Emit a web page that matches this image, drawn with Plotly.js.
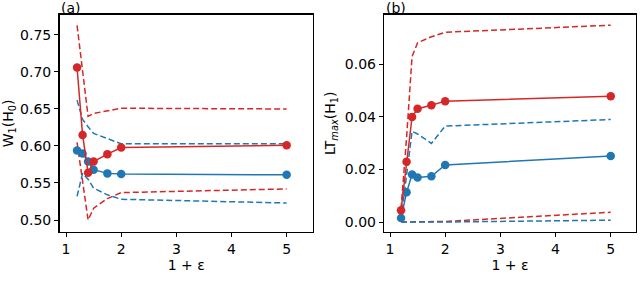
<!DOCTYPE html>
<html>
<head>
<meta charset="utf-8">
<script src="https://cdn.plot.ly/plotly-3.0.1.min.js"></script>
<style>html,body{margin:0;padding:0;background:#fff;}#plot{width:640px;height:292px;}</style>
</head>
<body>
<div id="plot"></div>
<script>
const eps = [1.2, 1.3, 1.4, 1.5, 1.75, 2, 5];

// Panel (a): W1(H0)
const aRedMean = [0.706, 0.615, 0.564, 0.579, 0.589, 0.598, 0.601];
const aRedUpper = [0.763, 0.702, 0.640, 0.644, 0.648, 0.651, 0.650];
const aRedLower = [0.605, 0.553, 0.500, 0.516, 0.529, 0.537, 0.542];
const aBlueMean = [0.594, 0.590, 0.579, 0.568, 0.563, 0.562, 0.561];
const aBlueUpper = [0.662, 0.636, 0.626, 0.617, 0.610, 0.603, 0.603];
const aBlueLower = [0.532, 0.563, 0.555, 0.543, 0.534, 0.528, 0.523];

// Panel (b): LTmax(H1)
const bRedMean = [0.0045, 0.0229, 0.0400, 0.0431, 0.0444, 0.0460, 0.0479];
const bRedUpper = [0.0050, 0.0320, 0.0630, 0.0682, 0.0705, 0.0722, 0.0749];
const bRedLower = [0.0000, 0.0000, 0.0000, 0.0000, 0.0001, 0.0002, 0.0037];
const bBlueMean = [0.0015, 0.0113, 0.0181, 0.0169, 0.0174, 0.0217, 0.0251];
const bBlueUpper = [0.0010, 0.0180, 0.0345, 0.0335, 0.0299, 0.0365, 0.0390];
const bBlueLower = [0.0000, 0.0000, 0.0000, 0.0000, 0.0000, 0.0000, 0.0007];

const xTicks = [1, 2, 3, 4, 5];
const aYTicks = [0.50, 0.55, 0.60, 0.65, 0.70, 0.75];
const bYTicks = [0.00, 0.02, 0.04, 0.06];

const RED = '#d62728';
const BLUE = '#1f77b4';

function dashed(y, color, xa, ya) {
  return {x: eps, y: y, xaxis: xa, yaxis: ya, mode: 'lines', type: 'scatter',
    line: {color: color, width: 1.5, dash: '6px,3px'}, hoverinfo: 'skip', showlegend: false};
}
function solid(y, color, xa, ya) {
  return {x: eps, y: y, xaxis: xa, yaxis: ya, mode: 'lines+markers', type: 'scatter',
    line: {color: color, width: 1.5}, marker: {color: color, size: 8.5}, showlegend: false};
}

const data = [
  dashed(aRedUpper, RED, 'x', 'y'), dashed(aRedLower, RED, 'x', 'y'),
  dashed(aBlueUpper, BLUE, 'x', 'y'), dashed(aBlueLower, BLUE, 'x', 'y'),
  solid(aBlueMean, BLUE, 'x', 'y'), solid(aRedMean, RED, 'x', 'y'),
  dashed(bRedUpper, RED, 'x2', 'y2'), dashed(bRedLower, RED, 'x2', 'y2'),
  dashed(bBlueUpper, BLUE, 'x2', 'y2'), dashed(bBlueLower, BLUE, 'x2', 'y2'),
  solid(bBlueMean, BLUE, 'x2', 'y2'), solid(bRedMean, RED, 'x2', 'y2')
];

const font = {family: 'DejaVu Sans', size: 14, color: '#000'};
const axisCommon = {
  showgrid: false, zeroline: false, showline: true, mirror: true,
  linecolor: '#000', linewidth: 1.5, ticks: 'outside', ticklen: 4, tickwidth: 1,
  tickcolor: '#000', tickfont: font
};

const layout = {
  width: 640, height: 292,
  margin: {l: 0, r: 0, t: 0, b: 0},
  paper_bgcolor: '#fff', plot_bgcolor: '#fff',
  font: font,
  showlegend: false,
  xaxis: Object.assign({}, axisCommon, {domain: [0.093, 0.489], range: [0.882, 5.477],
    tickvals: xTicks, anchor: 'y', title: {text: '1 + ε', font: font, standoff: 3}}),
  yaxis: Object.assign({}, axisCommon, {domain: [0.2055, 0.9497], range: [0.4838, 0.7774],
    tickvals: aYTicks, tickformat: '.2f', anchor: 'x',
    title: {text: 'W<sub>1</sub>(H<sub>0</sub>)', font: font, standoff: 5}}),
  xaxis2: Object.assign({}, axisCommon, {domain: [0.6005, 0.9933], range: [0.897, 5.453],
    tickvals: xTicks, anchor: 'y2', title: {text: '1 + ε', font: font, standoff: 3}}),
  yaxis2: Object.assign({}, axisCommon, {domain: [0.2055, 0.9497], range: [-0.0038, 0.0789],
    tickvals: bYTicks, tickformat: '.2f', anchor: 'x2',
    title: {text: 'LT<sub><i>max</i></sub>(H<sub>1</sub>)', font: font, standoff: 6}}),
  annotations: [
    {text: '(a)', xref: 'paper', yref: 'paper', x: 0.0925, y: 0.9497, xanchor: 'left', yanchor: 'bottom',
      showarrow: false, font: font, yshift: -3},
    {text: '(b)', xref: 'paper', yref: 'paper', x: 0.6005, y: 0.9497, xanchor: 'left', yanchor: 'bottom',
      showarrow: false, font: font, yshift: -3}
  ]
};

Plotly.newPlot('plot', data, layout, {staticPlot: true, displayModeBar: false});
</script>
</body>
</html>
